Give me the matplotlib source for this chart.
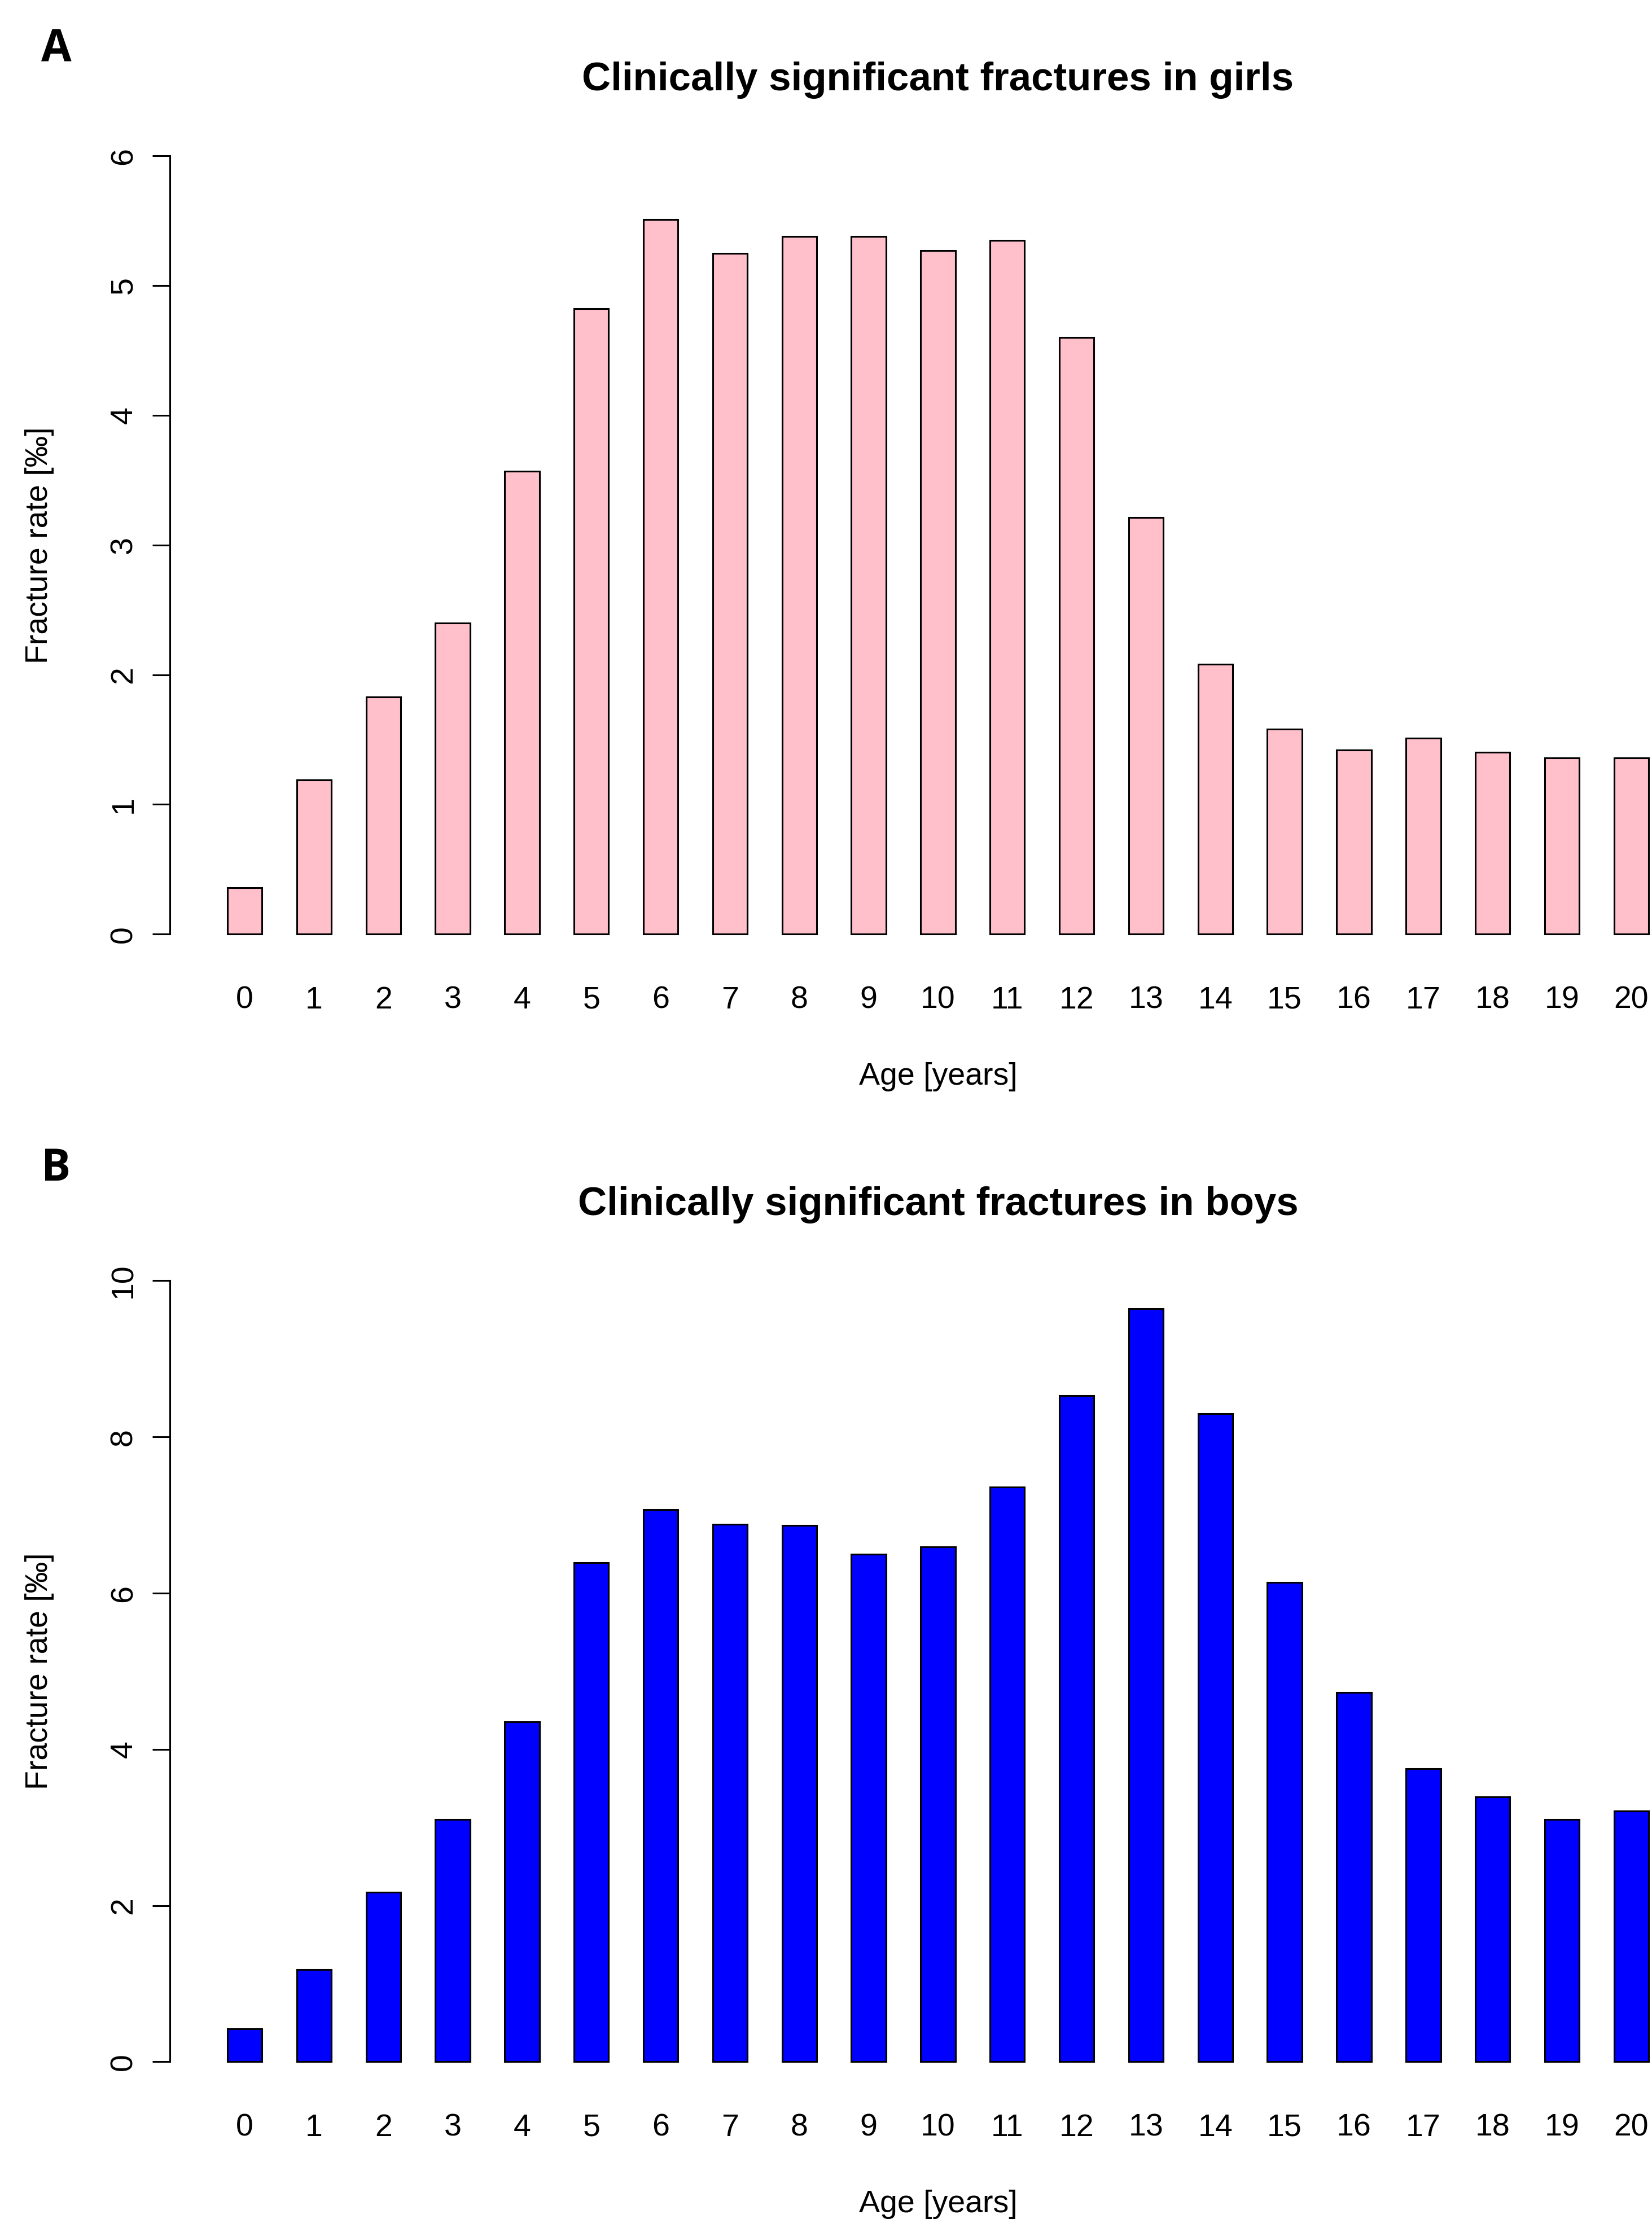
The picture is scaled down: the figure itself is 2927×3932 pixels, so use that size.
import numpy as np
import matplotlib
matplotlib.use("Agg")
import matplotlib.pyplot as plt

# data
ages = list(range(21))
girls_rate = [0.36, 1.19, 1.83, 2.40, 3.57, 4.82, 5.51, 5.25, 5.38, 5.38, 5.27,
              5.35, 4.60, 3.21, 2.08, 1.58, 1.42, 1.51, 1.40, 1.36, 1.36]
boys_rate = [0.42, 1.18, 2.17, 3.10, 4.35, 6.39, 7.07, 6.88, 6.87, 6.50, 6.59,
             7.36, 8.53, 9.64, 8.30, 6.14, 4.73, 3.75, 3.39, 3.10, 3.21]
girls_ticks = [0, 1, 2, 3, 4, 5, 6]
boys_ticks = [0, 2, 4, 6, 8, 10]

plt.rcParams['font.family'] = ['Liberation Sans', 'DejaVu Sans']

fig = plt.figure(figsize=(29.27, 39.32), dpi=100)

def draw_panel(rect, values, color, yticks, title, letter, letter_y):
    ax = fig.add_axes(rect)
    x = np.array(ages)
    ax.bar(x, values, width=0.5, color=color, edgecolor='black', linewidth=2.2)
    ax.set_xlim(-1.08, 21.08)
    span = yticks[-1] - yticks[0]
    ax.set_ylim(-0.04 * span, yticks[-1] + 0.04 * span)
    for s in ['top', 'right', 'bottom']:
        ax.spines[s].set_visible(False)
    ax.spines['left'].set_bounds(yticks[0], yticks[-1])
    ax.spines['left'].set_linewidth(2.2)
    ax.set_yticks(yticks)
    ax.set_yticklabels([str(t) for t in yticks], rotation=90, va='center')
    ax.tick_params(axis='y', length=22, width=2.2, pad=18, labelsize=40)
    ax.set_xticks(x)
    ax.set_xticklabels([str(a) for a in ages])
    ax.tick_params(axis='x', length=0, pad=26, labelsize=40)
    ax.set_xlabel('Age [years]', fontsize=40, labelpad=60)
    ax.set_ylabel('Fracture rate [‰]', fontsize=40, labelpad=70)
    ax.set_title(title, fontsize=51, fontweight='bold', pad=44)
    fig.text(0.034, letter_y, letter, fontsize=56, fontweight='bold',
             family=['Open Sans', 'DejaVu Sans'], ha='center', va='center')
    return ax

draw_panel([0.1028, 0.565, 0.93, 0.3788], girls_rate, '#FFC0CB', girls_ticks,
           'Clinically significant fractures in girls', 'A', 1 - 35 / 1568)
draw_panel([0.1028, 0.0568, 0.93, 0.3801], boys_rate, '#0000FF', boys_ticks,
           'Clinically significant fractures in boys', 'B', 1 - 826 / 1568)

fig.savefig('out.png', dpi=100, facecolor='white')
